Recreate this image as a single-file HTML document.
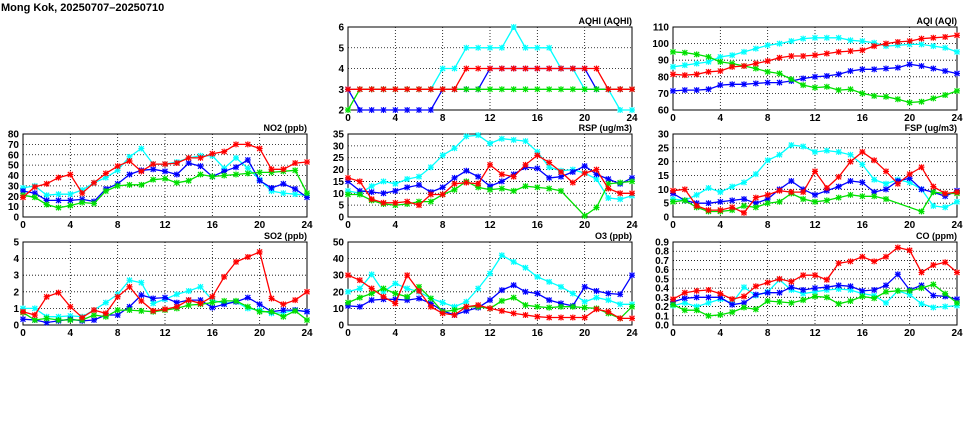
<!DOCTYPE html>
<html><head><meta charset="utf-8"><style>
body{margin:0;background:#fff;}
svg{display:block;font-family:"Liberation Sans",sans-serif;}
</style></head><body>
<svg id="c" width="975" height="447"></svg>
<script>
const hours = [0,1,2,3,4,5,6,7,8,9,10,11,12,13,14,15,16,17,18,19,20,21,22,23,24];
const xTicks = [0,4,8,12,16,20,24];
const seriesColors = ['#00ffff','#0000ff','#00e000','#ff0000'];
const seriesNames = ['cyan','blue','green','red'];

const aqhiCyan=[3,3,3,3,3,3,3,3,4,4,5,5,5,5,6,5,5,5,4,4,3,3,3,2,2];
const aqhiBlue=[3,2,2,2,2,2,2,2,3,3,3,3,4,4,4,4,4,4,4,4,4,3,3,3,3];
const aqhiGreen=[2,3,3,3,3,3,3,3,3,3,3,3,3,3,3,3,3,3,3,3,3,3,3,3,3];
const aqhiRed=[3,3,3,3,3,3,3,3,3,3,4,4,4,4,4,4,4,4,4,4,4,4,3,3,3];

const aqiCyan=[86,87,88,89,92,93,95,97,99,100,101.5,103,103.5,103.5,103.5,102,101.5,100.5,98.5,99,99.5,99.5,98.5,97.5,95];
const aqiBlue=[71.5,72,72,72.5,75,75.5,75.5,76,76.5,76.5,77.5,79,80,80.5,81.5,83.5,84.5,84.5,85,85.5,87.5,86.5,85,83.5,82];
const aqiGreen=[95,94.5,93.5,92,89,88,86.5,85,83,82,78.5,75,73.5,74,72,72.5,70,68.5,68,66.5,64.5,65,67,69,71.5];
const aqiRed=[81.5,81,81.5,83,83.5,86,86.5,88,89.5,91.5,92.5,92.5,93,94,95,95.5,96,98.5,100,101,101.5,103,103.5,104,105];

const no2Cyan=[28,30,21,22,22,26,33,38,45,58,66,51,51,53,57,59,59,47,57,47,36,25,23,22,21];
const no2Blue=[25,23,16,16,16,17,15,27,32,41,45,46,44,41,52,49,39,44,48,55,35,28,32,27,19];
const no2Green=[21,19,12,9,11,14,13,25,30,31,31,36,37,33,35,41,39,40,41,42,43,43,44,45,23];
const no2Red=[19,29,32,38,41,23,33,42,49,54,44,51,51,52,57,57,61,63,70,70,66,46,46,52,53];

const rspCyan=[11,10,13,15,14,16,17,21,26,29,34,34.5,31,33,32.5,32,27.5,21,19.5,20,18.5,16,8,7.5,9];
const rspBlue=[15,11,10.5,10,11,12.5,13.5,10.5,12.5,16.5,19.5,17,13,15,18,21,20.5,16.5,17,19,21.5,18,16,14,16.5];
const rspGreen=[9.5,9.5,7,5.5,5,5.5,6.5,6.5,9.5,11.5,15,12.5,11.5,12,11,13,12.5,12,11,null,0.5,4,14,14.5,15];
const rspRed=[16.5,15,7.5,6,6,6.5,5,9.5,9.5,14,14.5,14,22,18,17,22,26,23,19,14.5,18.5,20,12,10,10];

const fspCyan=[6.5,6,8,10.5,9,11,12.5,15.5,20.5,22.5,26,25.5,23.5,24,23.5,22.5,19,13.5,12,13.5,12.5,10,4,3.5,5.5];
const fspBlue=[8.5,6,5,5,5.5,6,6.5,5,6.5,10,13,10,8,9.5,11,13,12.5,9,10,13,14,10,9,7.5,9.5];
const fspGreen=[5.5,6,3.5,2,2,2.5,4,3.5,5,5.5,8.5,6.5,5.5,6,7,8,7.5,7.5,6.5,null,null,2,9,8.5,8.5];
const fspRed=[9.5,10,4,2.5,2.5,3.5,1.5,7,8,9.5,9,9,16.5,10.5,14.5,20,23.5,20.5,16.5,12,15.5,18,11,8.5,9];

const so2Cyan=[1.0,1.0,0.5,0.5,0.55,0.5,0.9,1.35,1.85,2.7,2.55,1.3,1.55,1.85,2.05,2.3,1.5,1.3,1.4,1.0,0.9,0.7,0.75,0.9,0.8];
const so2Blue=[0.35,0.3,0.15,0.25,0.35,0.25,0.3,0.6,0.6,1.1,1.8,1.6,1.65,1.35,1.5,1.5,1.05,1.25,1.4,1.65,1.25,0.8,0.9,0.9,0.8];
const so2Green=[0.75,0.3,0.4,0.3,0.3,0.3,0.6,0.5,0.9,0.9,0.85,0.8,0.9,1.0,1.2,1.25,1.35,1.45,1.45,1.1,0.8,0.8,0.5,0.85,0.3];
const so2Red=[0.8,0.6,1.7,1.95,1.1,0.45,0.9,0.7,1.7,2.3,1.45,0.85,0.95,1.1,1.5,1.3,1.7,2.9,3.8,4.1,4.4,1.6,1.25,1.5,2.0];

const o3Cyan=[20,22,30.5,20,25,22,20,16,13.5,11,14,22,31,42,38,34.5,29,26,23,19,14,16.5,15,12.5,12.5];
const o3Blue=[11.5,11,15,15.5,15.5,15,16,13,8.5,6,8.5,10.5,15,21,24,20,19,15,13,11.5,23,20.5,19,18.5,30];
const o3Green=[13.5,16.5,19,22,19,17,23,16,8,9,11,11,10,14.5,16.5,12,11,10.5,11,11,10.5,10,7,4,11];
const o3Red=[30,27,22,17,13,30,20.5,11,7,6,11,12,10,8.5,7,6,5,4.5,4.5,4.5,4.5,9.5,8,4,4];

const coCyan=[0.21,0.24,0.2,0.24,0.28,0.24,0.41,0.32,0.36,0.49,0.38,0.34,0.36,0.38,0.39,0.38,0.34,0.32,0.24,0.37,0.33,0.23,0.19,0.2,0.21];
const coBlue=[0.25,0.29,0.3,0.3,0.3,0.22,0.24,0.33,0.35,0.35,0.41,0.38,0.40,0.41,0.43,0.42,0.37,0.38,0.43,0.55,0.38,0.43,0.32,0.31,0.28];
const coGreen=[0.22,0.16,0.16,0.1,0.11,0.14,0.19,0.17,0.26,0.25,0.24,0.27,0.31,0.30,0.23,0.26,0.31,0.29,0.36,0.37,0.37,0.40,0.44,0.34,0.24];
const coRed=[0.28,0.35,0.37,0.38,0.34,0.28,0.31,0.42,0.46,0.50,0.47,0.54,0.54,0.49,0.67,0.69,0.74,0.69,0.74,0.84,0.81,0.57,0.65,0.68,0.57];

const aqhiTicks=[2,3,4,5,6];
const aqiTicks=[60,70,80,90,100,110];
const no2Ticks=[0,10,20,30,40,50,60,70,80];
const rspTicks=[0,5,10,15,20,25,30,35];
const fspTicks=[0,5,10,15,20,25,30];
const so2Ticks=[0,1,2,3,4,5];
const o3Ticks=[0,10,20,30,40,50];
const coTicks=[0,0.1,0.2,0.3,0.4,0.5,0.6,0.7,0.8,0.9];

const panels=[
 {name:'aqhi',title:'AQHI (AQHI)',x:348,y:27,ticks:aqhiTicks,dec:0,s:[aqhiCyan,aqhiBlue,aqhiGreen,aqhiRed]},
 {name:'aqi',title:'AQI (AQI)',x:673,y:27,ticks:aqiTicks,dec:0,s:[aqiCyan,aqiBlue,aqiGreen,aqiRed]},
 {name:'no2',title:'NO2 (ppb)',x:23,y:134,ticks:no2Ticks,dec:0,s:[no2Cyan,no2Blue,no2Green,no2Red]},
 {name:'rsp',title:'RSP (ug/m3)',x:348,y:134,ticks:rspTicks,dec:0,s:[rspCyan,rspBlue,rspGreen,rspRed]},
 {name:'fsp',title:'FSP (ug/m3)',x:673,y:134,ticks:fspTicks,dec:0,s:[fspCyan,fspBlue,fspGreen,fspRed]},
 {name:'so2',title:'SO2 (ppb)',x:23,y:242,ticks:so2Ticks,dec:0,s:[so2Cyan,so2Blue,so2Green,so2Red]},
 {name:'o3',title:'O3 (ppb)',x:348,y:242,ticks:o3Ticks,dec:0,s:[o3Cyan,o3Blue,o3Green,o3Red]},
 {name:'co',title:'CO (ppm)',x:673,y:242,ticks:coTicks,dec:1,s:[coCyan,coBlue,coGreen,coRed]}
];
const W=284,H=83;
const NS='http://www.w3.org/2000/svg';
const svg=document.getElementById('c');
function mk(tag,attrs,parent){const e=document.createElementNS(NS,tag);for(const k in attrs)e.setAttribute(k,attrs[k]);(parent||svg).appendChild(e);return e;}

const t=mk('text',{x:1,y:11,'font-size':'11','font-weight':'bold',fill:'#000'});


t.textContent='Mong Kok, 20250707\u201320250710';

panels.forEach(p=>{
  const g=mk('g',{});
  
  
  const ymin=p.ticks[0],ymax=p.ticks[p.ticks.length-1];
  const sx=v=>p.x+v/24*W;
  const sy=v=>p.y+H-(v-ymin)/(ymax-ymin)*H;
  p.ticks.forEach(tv=>{
    const yy=sy(tv);
    if(tv!==ymin&&tv!==ymax){const l=mk('line',{x1:p.x,x2:p.x+W,y1:yy,y2:yy,stroke:'#000','stroke-width':0.8,'stroke-dasharray':'1,2'},g);
      }
    const tl=mk('text',{x:p.x-4,y:yy+3.5,'font-size':'10','font-weight':'bold','text-anchor':'end'},g);
    
    tl.textContent=tv.toFixed(p.dec);
  });
  xTicks.forEach(tv=>{
    const xx=sx(tv);
    if(tv!==0&&tv!==24){const l=mk('line',{x1:xx,x2:xx,y1:p.y,y2:p.y+H,stroke:'#000','stroke-width':0.8,'stroke-dasharray':'1,2'},g);
      }
    const tl=mk('text',{x:xx,y:p.y+H+11,'font-size':'10','font-weight':'bold','text-anchor':'middle'},g);
    
    tl.textContent=tv;
  });
  const ttl=mk('text',{x:p.x+W,y:p.y-3,'font-size':'9','font-weight':'bold','text-anchor':'end'},g);
  
  ttl.textContent=p.title;
  const fr=mk('rect',{x:p.x,y:p.y,width:W,height:H,fill:'none',stroke:'#000','stroke-width':1},g);
  
  p.s.forEach((arr,si)=>{
    const col=seriesColors[si];
    const pts=[];
    arr.forEach((v,i)=>{if(v!==null)pts.push([sx(hours[i]),sy(v)]);});
    const pl=mk('polyline',{points:pts.map(q=>q[0].toFixed(1)+','+q[1].toFixed(1)).join(' '),fill:'none',stroke:col,'stroke-width':1.3},g);
    
    
    pts.forEach(q=>{
      const m=mk('path',{d:`M${q[0]-2.5},${q[1]-2.5}l5,5M${q[0]-2.5},${q[1]+2.5}l5,-5M${q[0]-3},${q[1]}h6M${q[0]},${q[1]-3}v6`,stroke:col,'stroke-width':1.2},g);
      
      
    });
  });
});
</script>
</body></html>
